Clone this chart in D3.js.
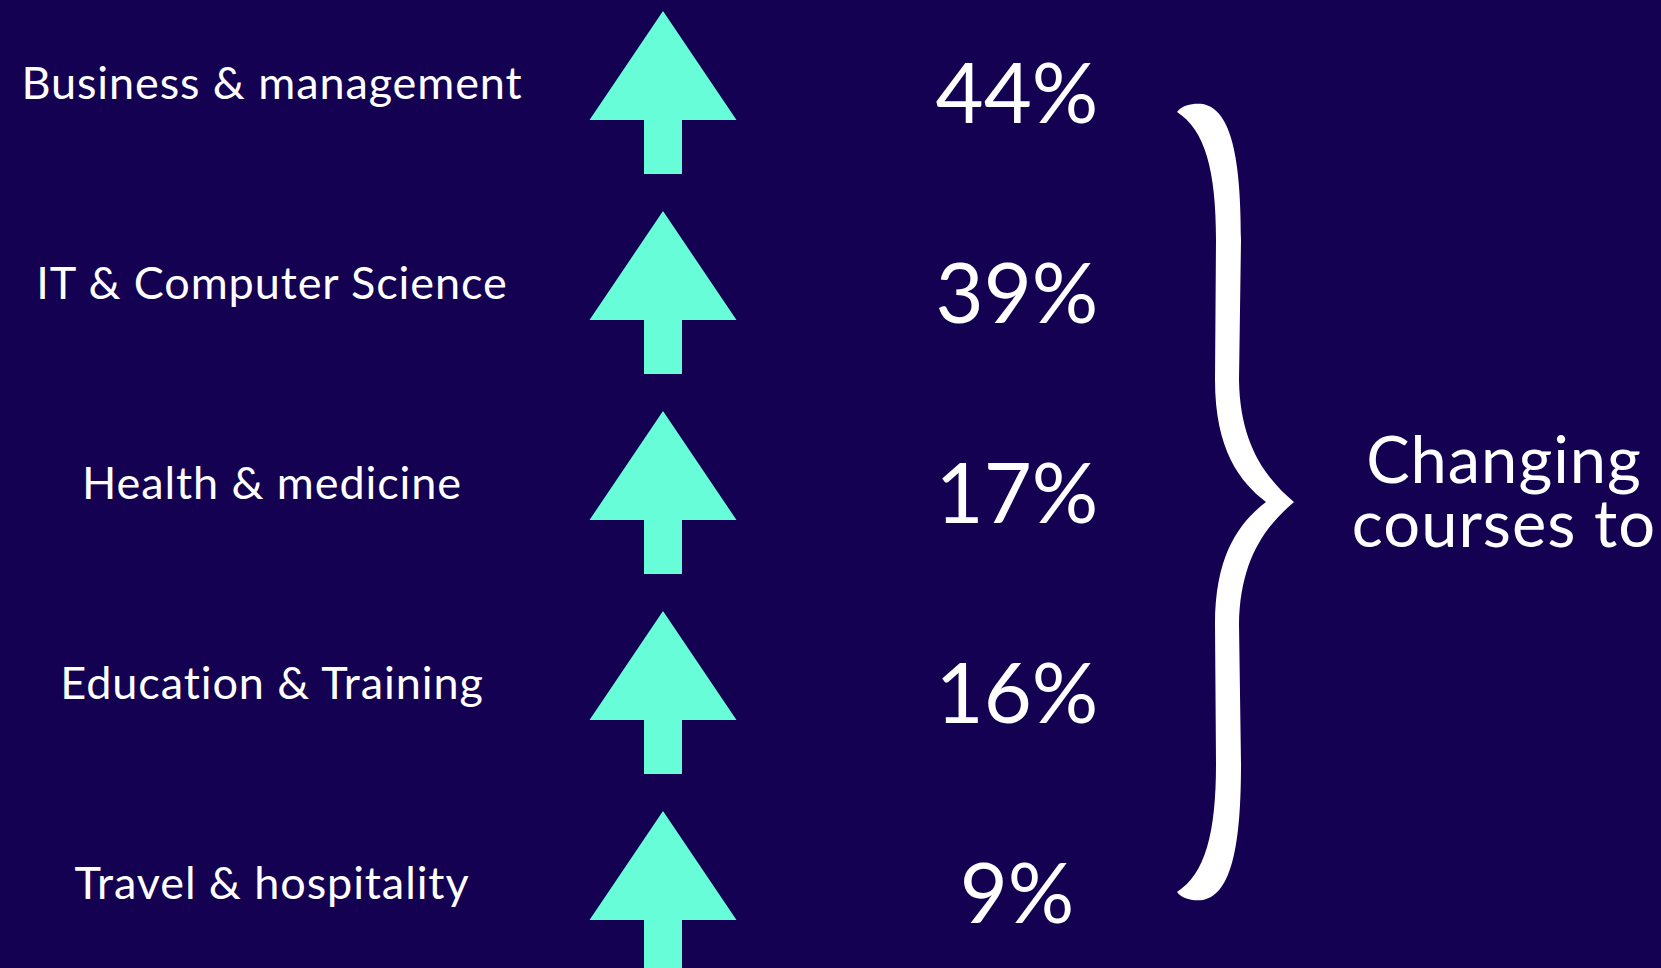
<!DOCTYPE html>
<html>
<head>
<meta charset="utf-8">
<script src="https://cdn.jsdelivr.net/npm/d3@7"></script>
<style>
  html, body { margin: 0; padding: 0; background: #140152; overflow: hidden; }
  svg { display: block; }
  text { font-family: Lato, "Open Sans", sans-serif; fill: #ffffff; }
</style>
</head>
<body>
<div class="svgContainer"></div>
<script>
// Data
var CATEGORIES = ["Business & management", "IT & Computer Science", "Health & medicine", "Education & Training", "Travel & hospitality"];
var VALUES = [44, 39, 17, 16, 9];
var CAPTION = ["Changing", "courses to"];
// End data

var width = 1661,
    height = 968;

var svg = d3.select(".svgContainer").append("svg")
    .attr("width", width)
    .attr("height", height);

svg.append("rect")
    .attr("width", width)
    .attr("height", height)
    .attr("fill", "#140152");

// one band per category, 200px each
var scaleY = d3.scaleBand()
    .domain(CATEGORIES)
    .range([0, 1000])
    .padding(0);

// columns: label, value
var scaleX = d3.scalePoint()
    .domain(["label", "value"])
    .range([272, 1017]);
var arrowX = 663;

var rows = svg.selectAll("g.row")
    .data(CATEGORIES)
    .enter().append("g")
    .attr("class", "row")
    .attr("transform", function(d) { return "translate(0," + scaleY(d) + ")"; });

rows.append("text")
    .attr("x", scaleX("label"))
    .attr("y", 99)
    .attr("text-anchor", "middle")
    .attr("font-size", 45)
    .attr("letter-spacing", 0.9)
    .text(function(d) { return d; });

// up arrow: triangle head + stem
rows.append("path")
    .attr("fill", "#66fdd8")
    .attr("d", function() {
        var p = d3.path();
        p.moveTo(arrowX, 11);
        p.lineTo(arrowX + 73.5, 120);
        p.lineTo(arrowX + 19, 120);
        p.lineTo(arrowX + 19, 174);
        p.lineTo(arrowX - 19, 174);
        p.lineTo(arrowX - 19, 120);
        p.lineTo(arrowX - 73.5, 120);
        p.closePath();
        return p.toString();
    });

rows.append("text")
    .attr("x", scaleX("value"))
    .attr("y", 123)
    .attr("text-anchor", "middle")
    .attr("font-size", 83)
    .text(function(d, i) { return VALUES[i] + "%"; });

// curly brace spanning the rows
var braceTop = scaleY(CATEGORIES[0]) + 105,
    braceBottom = scaleY(CATEGORIES[CATEGORIES.length - 1]) + 99,
    half = (braceBottom - braceTop) / 2,
    braceX = 1177;

var halfBrace = "M0,7 C6,-1 18,-2 26,-1 C55,5 64,55 64,135 L62," + (half - 122) +
    " C63," + (half - 62) + " 85," + (half - 27) + " 117," + half +
    " L89," + half +
    " C63," + (half - 20) + " 38," + (half - 52) + " 38," + (half - 122) +
    " L39,135 C39,65 28,25 0,7 Z";

var brace = svg.append("g")
    .attr("transform", "translate(" + braceX + "," + braceTop + ")");
brace.append("path")
    .attr("d", halfBrace)
    .attr("fill", "#ffffff");
brace.append("path")
    .attr("d", halfBrace)
    .attr("fill", "#ffffff")
    .attr("transform", "translate(0," + (2 * half) + ") scale(1,-1)");

svg.selectAll("text.caption")
    .data(CAPTION)
    .enter().append("text")
    .attr("class", "caption")
    .attr("x", 1504)
    .attr("y", function(d, i) { return 483 + i * 64; })
    .attr("text-anchor", "middle")
    .attr("font-size", 65)
    .attr("letter-spacing", 1)
    .text(function(d) { return d; });
</script>
</body>
</html>
